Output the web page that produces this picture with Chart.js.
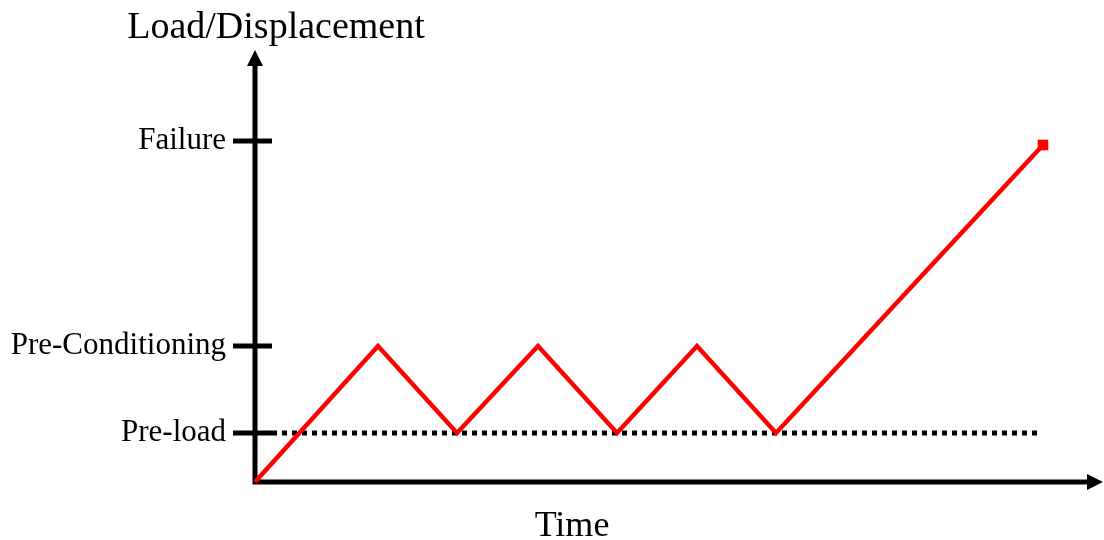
<!DOCTYPE html>
<html lang="en">
<head>
  <meta charset="utf-8">
  <title>Load/Displacement vs Time</title>
  <script src="https://cdn.jsdelivr.net/npm/chart.js@4/dist/chart.umd.min.js"></script>
  <style>
    html, body { margin: 0; padding: 0; background: #fff; }
    #wrap { width: 1104px; height: 540px; }
  </style>
</head>
<body>
  <div id="wrap"><canvas id="loadChart"></canvas></div>
<script>
  // protocol curve (time, load) in arbitrary units
  var timeVals = [0, 12.3, 20.2, 28.3, 36.2, 44.2, 52.1, 78.8];
  var loadVals = [0, 136, 49, 136, 49, 136, 49, 337];

  // dotted pre-load reference
  var preloadTime = [1.7, 78.5];
  var preloadVal = [49, 49];

  // y axis ticks
  var tickVals = [341, 136, 49];
  var tickLabels = ['Failure', 'Pre-Conditioning', 'Pre-load'];

  var xTitle = 'Time';
  var yTitle = 'Load/Displacement';
  var xMax = 84.8;
  var yMax = 432;

  function toPoints(xs, ys) {
    return xs.map(function(x, i) { return { x: x, y: ys[i] }; });
  }

  var axesPlugin = {
    id: 'axesPlugin',
    beforeDatasetsDraw: function(chart) {
      var ctx = chart.ctx;
      var xs = chart.scales.x, ys = chart.scales.y;
      var x0 = xs.getPixelForValue(0), y0 = ys.getPixelForValue(0);
      var xEnd = xs.getPixelForValue(xMax), yEnd = ys.getPixelForValue(yMax);
      ctx.save();
      ctx.strokeStyle = '#000';
      ctx.fillStyle = '#000';
      ctx.lineWidth = 5;
      ctx.lineCap = 'butt';
      // axes
      ctx.beginPath();
      ctx.moveTo(x0, y0 + 2.5);
      ctx.lineTo(x0, yEnd + 12);
      ctx.moveTo(x0 - 2.5, y0);
      ctx.lineTo(xEnd - 12, y0);
      ctx.stroke();
      // arrow heads
      ctx.beginPath();
      ctx.moveTo(x0, yEnd);
      ctx.lineTo(x0 - 8, yEnd + 16);
      ctx.lineTo(x0 + 8, yEnd + 16);
      ctx.closePath();
      ctx.fill();
      ctx.beginPath();
      ctx.moveTo(xEnd, y0);
      ctx.lineTo(xEnd - 16, y0 - 8);
      ctx.lineTo(xEnd - 16, y0 + 8);
      ctx.closePath();
      ctx.fill();
      // tick marks and labels
      ctx.font = '31px "Liberation Serif", "Times New Roman", serif';
      ctx.textAlign = 'right';
      ctx.textBaseline = 'alphabetic';
      tickVals.forEach(function(v, i) {
        var py = ys.getPixelForValue(v);
        ctx.beginPath();
        ctx.moveTo(x0 - 22, py);
        ctx.lineTo(x0 + 17, py);
        ctx.stroke();
        ctx.fillText(tickLabels[i], x0 - 29, py + 8);
      });
      // axis titles
      ctx.textAlign = 'center';
      ctx.font = '38px "Liberation Serif", "Times New Roman", serif';
      ctx.fillText(yTitle, x0 + 21, 38);
      ctx.font = '36px "Liberation Serif", "Times New Roman", serif';
      ctx.fillText(xTitle, x0 + 317, y0 + 54);
      ctx.restore();
    }
  };

  var lastIdx = timeVals.length - 1;

  new Chart(document.getElementById('loadChart'), {
    type: 'line',
    data: {
      datasets: [{
        label: 'Load',
        data: toPoints(timeVals, loadVals),
        borderColor: '#ff0000',
        backgroundColor: '#ff0000',
        borderWidth: 4.5,
        pointStyle: 'rect',
        pointRadius: timeVals.map(function(t, i) { return i === lastIdx ? 7.5 : 0; }),
        pointBorderWidth: 0,
        tension: 0,
        clip: false
      }, {
        label: 'Pre-load',
        data: toPoints(preloadTime, preloadVal),
        borderColor: '#000',
        borderWidth: 5,
        borderDash: [5, 5],
        pointRadius: 0,
        clip: false
      }]
    },
    options: {
      responsive: true,
      maintainAspectRatio: false,
      animation: false,
      layout: { autoPadding: false, padding: { left: 255, right: 1, top: 50, bottom: 58 } },
      plugins: {
        legend: { display: false },
        tooltip: { enabled: false }
      },
      scales: {
        x: { type: 'linear', min: 0, max: xMax, display: false },
        y: { type: 'linear', min: 0, max: yMax, display: false }
      }
    },
    plugins: [axesPlugin]
  });
</script>
</body>
</html>
